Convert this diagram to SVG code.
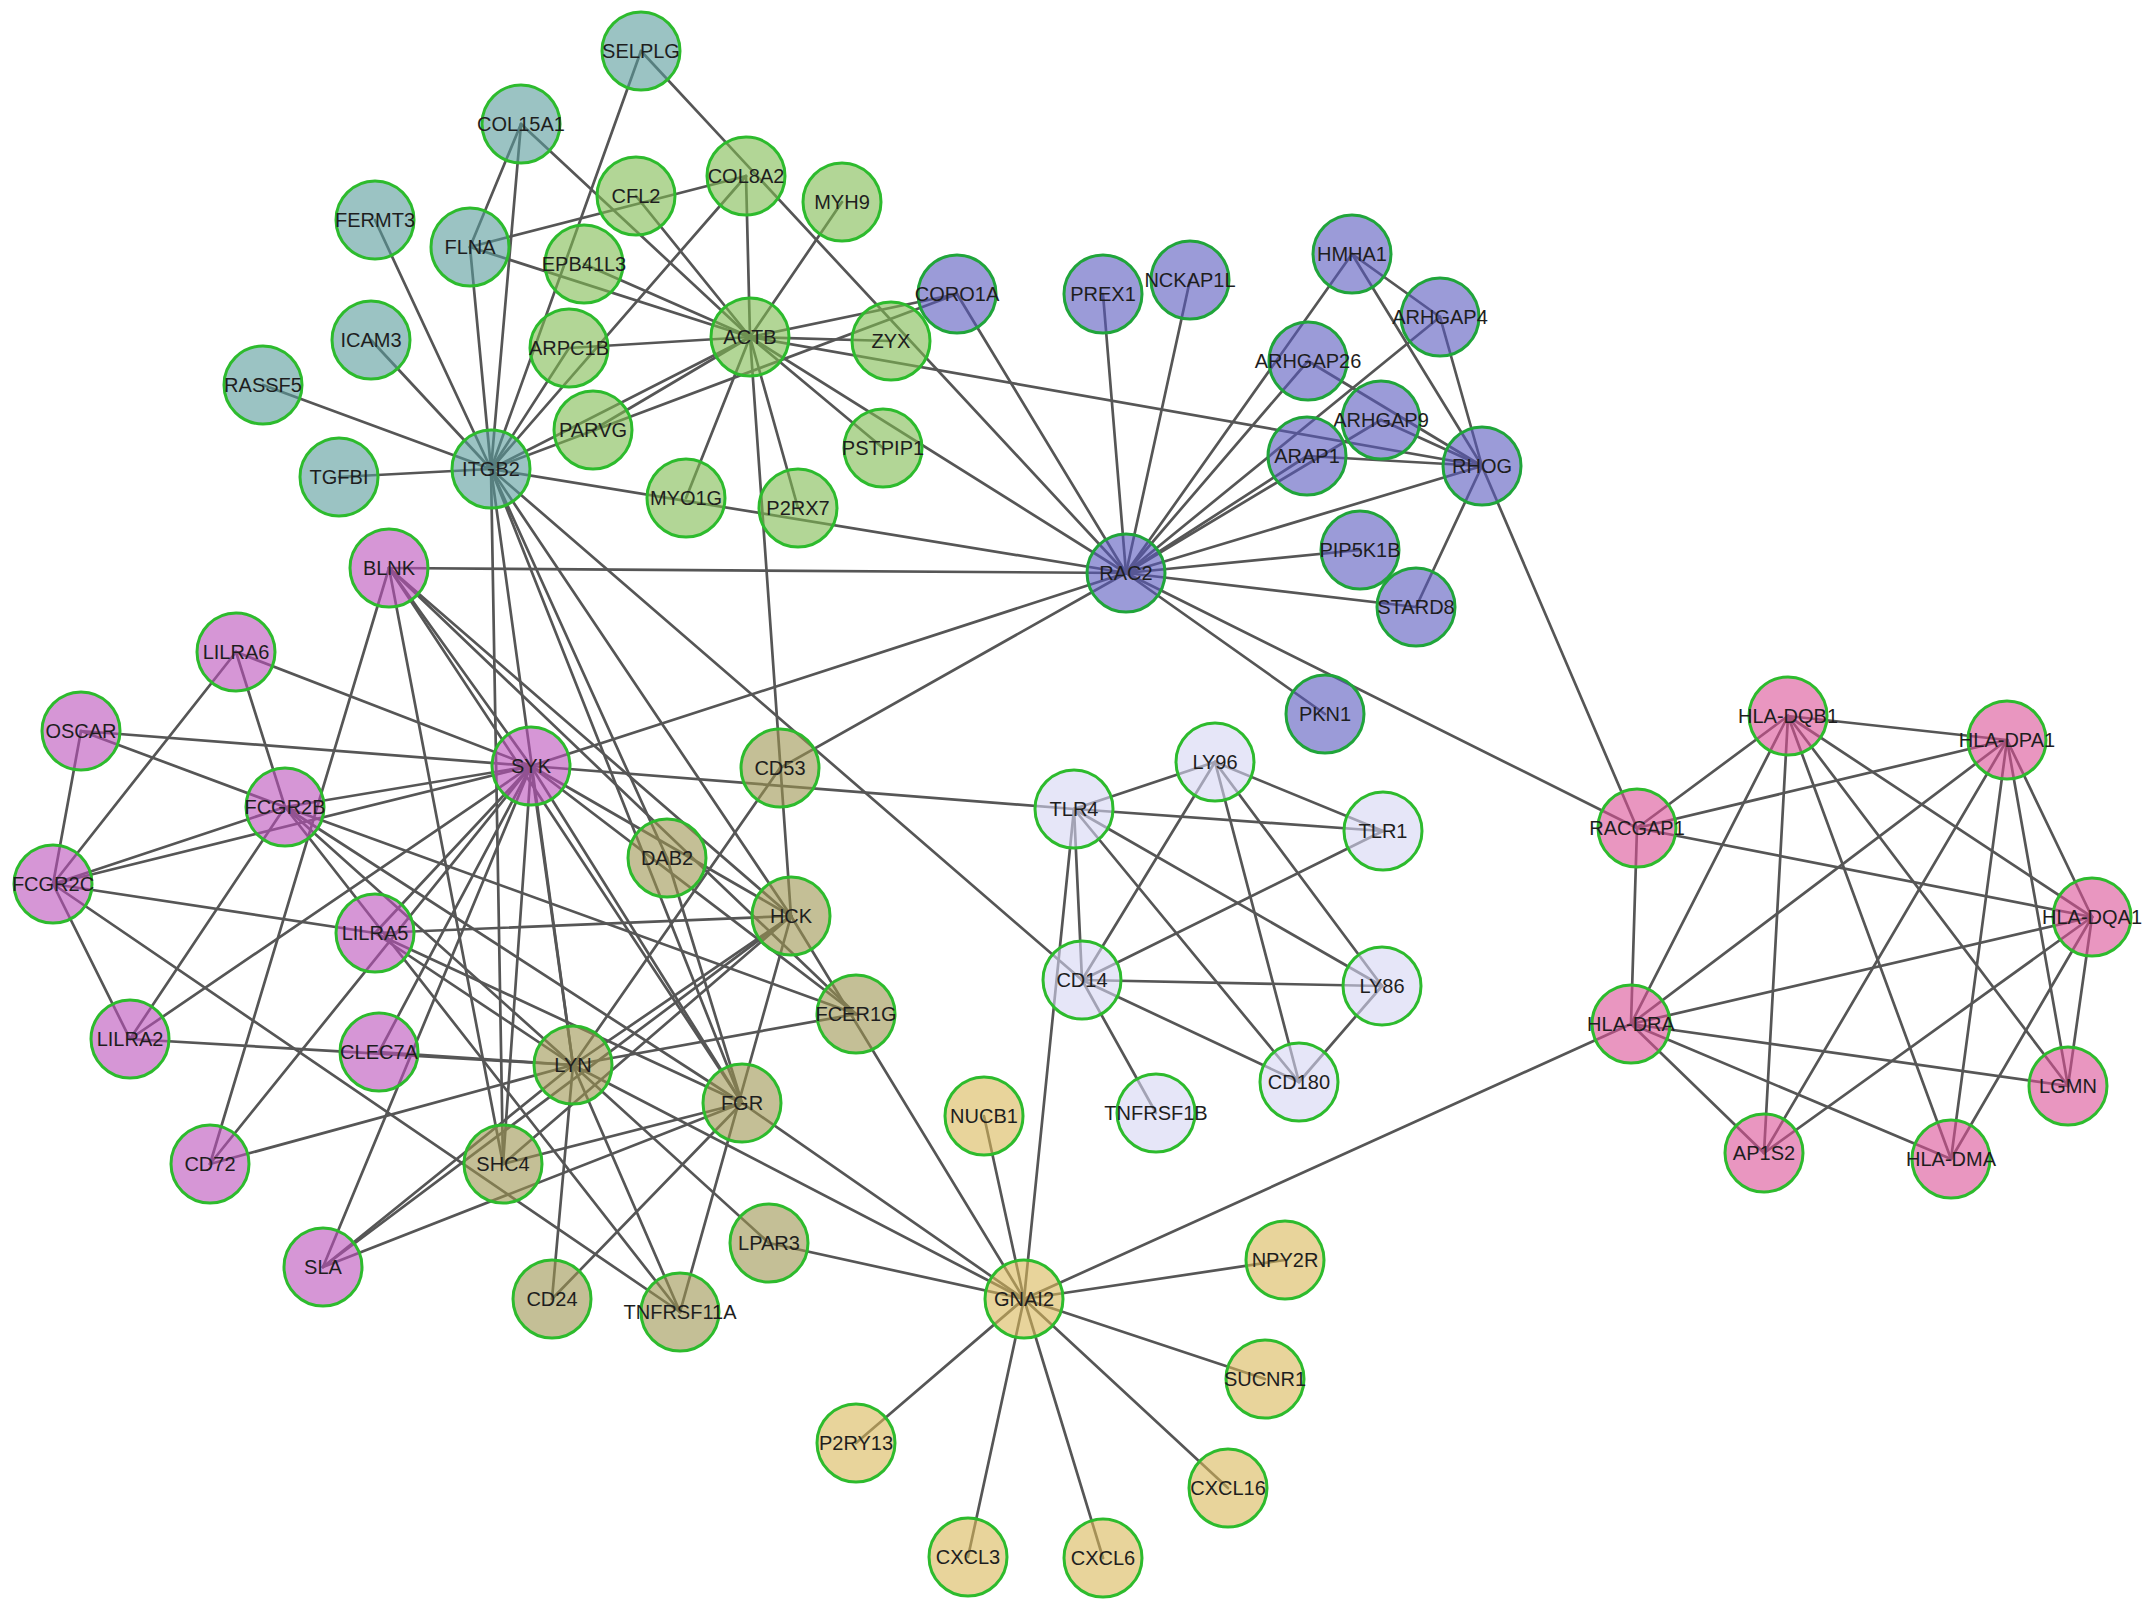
<svg xmlns="http://www.w3.org/2000/svg" width="2150" height="1612" viewBox="0 0 2150 1612">
<style>
.e{stroke:#565656;stroke-width:2.7;stroke-linecap:round}
circle{stroke:#2dbb2d;stroke-width:3}
.t{fill:#589b9b;fill-opacity:.6}
.g{fill:#7fbb50;fill-opacity:.6}
.p{fill:#5858be;fill-opacity:.6;stroke:#20a53a}
.o{fill:#bb50bb;fill-opacity:.6}
.k{fill:#9d9450;fill-opacity:.6}
.l{fill:#d5d5f3;fill-opacity:.6}
.y{fill:#d9b758;fill-opacity:.6}
.m{fill:#da5096;fill-opacity:.6}
text{font-family:"Liberation Sans",Arial,sans-serif;font-size:20px;fill:#1e1e1e;text-anchor:middle}
</style>
<rect width="2150" height="1612" fill="#fff"/>
<g id="edges">
<line class="e" x1="491" y1="469" x2="263" y2="385"/>
<line class="e" x1="491" y1="469" x2="339" y2="477"/>
<line class="e" x1="491" y1="469" x2="371" y2="340"/>
<line class="e" x1="491" y1="469" x2="375" y2="220"/>
<line class="e" x1="491" y1="469" x2="470" y2="247"/>
<line class="e" x1="491" y1="469" x2="521" y2="124"/>
<line class="e" x1="491" y1="469" x2="641" y2="51"/>
<line class="e" x1="491" y1="469" x2="569" y2="348"/>
<line class="e" x1="491" y1="469" x2="746" y2="176"/>
<line class="e" x1="491" y1="469" x2="750" y2="337"/>
<line class="e" x1="491" y1="469" x2="957" y2="294"/>
<line class="e" x1="491" y1="469" x2="1126" y2="573"/>
<line class="e" x1="491" y1="469" x2="573" y2="1065"/>
<line class="e" x1="491" y1="469" x2="503" y2="1164"/>
<line class="e" x1="491" y1="469" x2="667" y2="858"/>
<line class="e" x1="491" y1="469" x2="791" y2="916"/>
<line class="e" x1="491" y1="469" x2="742" y2="1103"/>
<line class="e" x1="491" y1="469" x2="1082" y2="980"/>
<line class="e" x1="521" y1="124" x2="470" y2="247"/>
<line class="e" x1="521" y1="124" x2="750" y2="337"/>
<line class="e" x1="470" y1="247" x2="750" y2="337"/>
<line class="e" x1="470" y1="247" x2="746" y2="176"/>
<line class="e" x1="641" y1="51" x2="1126" y2="573"/>
<line class="e" x1="750" y1="337" x2="746" y2="176"/>
<line class="e" x1="750" y1="337" x2="636" y2="196"/>
<line class="e" x1="750" y1="337" x2="842" y2="202"/>
<line class="e" x1="750" y1="337" x2="584" y2="264"/>
<line class="e" x1="750" y1="337" x2="569" y2="348"/>
<line class="e" x1="750" y1="337" x2="593" y2="430"/>
<line class="e" x1="750" y1="337" x2="686" y2="498"/>
<line class="e" x1="750" y1="337" x2="798" y2="508"/>
<line class="e" x1="750" y1="337" x2="883" y2="448"/>
<line class="e" x1="750" y1="337" x2="891" y2="341"/>
<line class="e" x1="750" y1="337" x2="957" y2="294"/>
<line class="e" x1="750" y1="337" x2="1126" y2="573"/>
<line class="e" x1="750" y1="337" x2="1482" y2="466"/>
<line class="e" x1="750" y1="337" x2="791" y2="916"/>
<line class="e" x1="1126" y1="573" x2="957" y2="294"/>
<line class="e" x1="1126" y1="573" x2="1103" y2="294"/>
<line class="e" x1="1126" y1="573" x2="1190" y2="280"/>
<line class="e" x1="1126" y1="573" x2="1352" y2="254"/>
<line class="e" x1="1126" y1="573" x2="1440" y2="317"/>
<line class="e" x1="1126" y1="573" x2="1308" y2="361"/>
<line class="e" x1="1126" y1="573" x2="1381" y2="420"/>
<line class="e" x1="1126" y1="573" x2="1307" y2="456"/>
<line class="e" x1="1126" y1="573" x2="1482" y2="466"/>
<line class="e" x1="1126" y1="573" x2="1360" y2="550"/>
<line class="e" x1="1126" y1="573" x2="1416" y2="607"/>
<line class="e" x1="1126" y1="573" x2="1325" y2="714"/>
<line class="e" x1="1126" y1="573" x2="1637" y2="828"/>
<line class="e" x1="1126" y1="573" x2="389" y2="568"/>
<line class="e" x1="1126" y1="573" x2="531" y2="766"/>
<line class="e" x1="1126" y1="573" x2="780" y2="768"/>
<line class="e" x1="1352" y1="254" x2="1482" y2="466"/>
<line class="e" x1="1352" y1="254" x2="1440" y2="317"/>
<line class="e" x1="1440" y1="317" x2="1482" y2="466"/>
<line class="e" x1="1308" y1="361" x2="1482" y2="466"/>
<line class="e" x1="1381" y1="420" x2="1482" y2="466"/>
<line class="e" x1="1307" y1="456" x2="1482" y2="466"/>
<line class="e" x1="1482" y1="466" x2="1416" y2="607"/>
<line class="e" x1="1482" y1="466" x2="1637" y2="828"/>
<line class="e" x1="389" y1="568" x2="531" y2="766"/>
<line class="e" x1="389" y1="568" x2="210" y2="1164"/>
<line class="e" x1="389" y1="568" x2="791" y2="916"/>
<line class="e" x1="389" y1="568" x2="742" y2="1103"/>
<line class="e" x1="389" y1="568" x2="856" y2="1014"/>
<line class="e" x1="389" y1="568" x2="503" y2="1164"/>
<line class="e" x1="236" y1="652" x2="531" y2="766"/>
<line class="e" x1="236" y1="652" x2="285" y2="807"/>
<line class="e" x1="236" y1="652" x2="53" y2="884"/>
<line class="e" x1="81" y1="731" x2="531" y2="766"/>
<line class="e" x1="81" y1="731" x2="285" y2="807"/>
<line class="e" x1="81" y1="731" x2="53" y2="884"/>
<line class="e" x1="285" y1="807" x2="531" y2="766"/>
<line class="e" x1="285" y1="807" x2="53" y2="884"/>
<line class="e" x1="285" y1="807" x2="130" y2="1039"/>
<line class="e" x1="285" y1="807" x2="856" y2="1014"/>
<line class="e" x1="285" y1="807" x2="573" y2="1065"/>
<line class="e" x1="285" y1="807" x2="742" y2="1103"/>
<line class="e" x1="285" y1="807" x2="680" y2="1312"/>
<line class="e" x1="53" y1="884" x2="531" y2="766"/>
<line class="e" x1="53" y1="884" x2="375" y2="933"/>
<line class="e" x1="53" y1="884" x2="130" y2="1039"/>
<line class="e" x1="53" y1="884" x2="680" y2="1312"/>
<line class="e" x1="375" y1="933" x2="531" y2="766"/>
<line class="e" x1="375" y1="933" x2="791" y2="916"/>
<line class="e" x1="375" y1="933" x2="573" y2="1065"/>
<line class="e" x1="375" y1="933" x2="742" y2="1103"/>
<line class="e" x1="130" y1="1039" x2="531" y2="766"/>
<line class="e" x1="130" y1="1039" x2="573" y2="1065"/>
<line class="e" x1="379" y1="1052" x2="531" y2="766"/>
<line class="e" x1="379" y1="1052" x2="573" y2="1065"/>
<line class="e" x1="210" y1="1164" x2="531" y2="766"/>
<line class="e" x1="210" y1="1164" x2="573" y2="1065"/>
<line class="e" x1="323" y1="1267" x2="531" y2="766"/>
<line class="e" x1="323" y1="1267" x2="573" y2="1065"/>
<line class="e" x1="323" y1="1267" x2="791" y2="916"/>
<line class="e" x1="323" y1="1267" x2="742" y2="1103"/>
<line class="e" x1="531" y1="766" x2="791" y2="916"/>
<line class="e" x1="531" y1="766" x2="856" y2="1014"/>
<line class="e" x1="531" y1="766" x2="742" y2="1103"/>
<line class="e" x1="531" y1="766" x2="573" y2="1065"/>
<line class="e" x1="531" y1="766" x2="503" y2="1164"/>
<line class="e" x1="531" y1="766" x2="1074" y2="809"/>
<line class="e" x1="780" y1="768" x2="573" y2="1065"/>
<line class="e" x1="667" y1="858" x2="742" y2="1103"/>
<line class="e" x1="791" y1="916" x2="573" y2="1065"/>
<line class="e" x1="791" y1="916" x2="503" y2="1164"/>
<line class="e" x1="791" y1="916" x2="1024" y2="1299"/>
<line class="e" x1="791" y1="916" x2="680" y2="1312"/>
<line class="e" x1="856" y1="1014" x2="573" y2="1065"/>
<line class="e" x1="573" y1="1065" x2="552" y2="1299"/>
<line class="e" x1="573" y1="1065" x2="680" y2="1312"/>
<line class="e" x1="573" y1="1065" x2="769" y2="1243"/>
<line class="e" x1="573" y1="1065" x2="1024" y2="1299"/>
<line class="e" x1="742" y1="1103" x2="552" y2="1299"/>
<line class="e" x1="742" y1="1103" x2="503" y2="1164"/>
<line class="e" x1="742" y1="1103" x2="1024" y2="1299"/>
<line class="e" x1="769" y1="1243" x2="1024" y2="1299"/>
<line class="e" x1="1215" y1="762" x2="1074" y2="809"/>
<line class="e" x1="1215" y1="762" x2="1383" y2="831"/>
<line class="e" x1="1215" y1="762" x2="1082" y2="980"/>
<line class="e" x1="1215" y1="762" x2="1299" y2="1082"/>
<line class="e" x1="1215" y1="762" x2="1382" y2="986"/>
<line class="e" x1="1074" y1="809" x2="1383" y2="831"/>
<line class="e" x1="1074" y1="809" x2="1082" y2="980"/>
<line class="e" x1="1074" y1="809" x2="1382" y2="986"/>
<line class="e" x1="1074" y1="809" x2="1299" y2="1082"/>
<line class="e" x1="1074" y1="809" x2="1024" y2="1299"/>
<line class="e" x1="1383" y1="831" x2="1082" y2="980"/>
<line class="e" x1="1082" y1="980" x2="1382" y2="986"/>
<line class="e" x1="1082" y1="980" x2="1299" y2="1082"/>
<line class="e" x1="1082" y1="980" x2="1156" y2="1113"/>
<line class="e" x1="1382" y1="986" x2="1299" y2="1082"/>
<line class="e" x1="1024" y1="1299" x2="984" y2="1116"/>
<line class="e" x1="1024" y1="1299" x2="1285" y2="1260"/>
<line class="e" x1="1024" y1="1299" x2="1265" y2="1379"/>
<line class="e" x1="1024" y1="1299" x2="1228" y2="1488"/>
<line class="e" x1="1024" y1="1299" x2="1103" y2="1558"/>
<line class="e" x1="1024" y1="1299" x2="968" y2="1557"/>
<line class="e" x1="1024" y1="1299" x2="856" y2="1443"/>
<line class="e" x1="1024" y1="1299" x2="1631" y2="1024"/>
<line class="e" x1="1788" y1="716" x2="2007" y2="740"/>
<line class="e" x1="1788" y1="716" x2="1637" y2="828"/>
<line class="e" x1="1788" y1="716" x2="1631" y2="1024"/>
<line class="e" x1="1788" y1="716" x2="1764" y2="1153"/>
<line class="e" x1="1788" y1="716" x2="1951" y2="1159"/>
<line class="e" x1="1788" y1="716" x2="2068" y2="1086"/>
<line class="e" x1="1788" y1="716" x2="2092" y2="917"/>
<line class="e" x1="2007" y1="740" x2="1637" y2="828"/>
<line class="e" x1="2007" y1="740" x2="1631" y2="1024"/>
<line class="e" x1="2007" y1="740" x2="1764" y2="1153"/>
<line class="e" x1="2007" y1="740" x2="1951" y2="1159"/>
<line class="e" x1="2007" y1="740" x2="2068" y2="1086"/>
<line class="e" x1="2007" y1="740" x2="2092" y2="917"/>
<line class="e" x1="1637" y1="828" x2="2092" y2="917"/>
<line class="e" x1="1637" y1="828" x2="1631" y2="1024"/>
<line class="e" x1="2092" y1="917" x2="1631" y2="1024"/>
<line class="e" x1="2092" y1="917" x2="1764" y2="1153"/>
<line class="e" x1="2092" y1="917" x2="1951" y2="1159"/>
<line class="e" x1="2092" y1="917" x2="2068" y2="1086"/>
<line class="e" x1="1631" y1="1024" x2="2068" y2="1086"/>
<line class="e" x1="1631" y1="1024" x2="1764" y2="1153"/>
<line class="e" x1="1631" y1="1024" x2="1951" y2="1159"/>
</g>
<g id="node-SELPLG"><circle class="t" cx="641" cy="51" r="39"/><text x="641" y="58">SELPLG</text></g>
<g id="node-COL15A1"><circle class="t" cx="521" cy="124" r="39"/><text x="521" y="131">COL15A1</text></g>
<g id="node-FERMT3"><circle class="t" cx="375" cy="220" r="39"/><text x="375" y="227">FERMT3</text></g>
<g id="node-FLNA"><circle class="t" cx="470" cy="247" r="39"/><text x="470" y="254">FLNA</text></g>
<g id="node-ICAM3"><circle class="t" cx="371" cy="340" r="39"/><text x="371" y="347">ICAM3</text></g>
<g id="node-RASSF5"><circle class="t" cx="263" cy="385" r="39"/><text x="263" y="392">RASSF5</text></g>
<g id="node-TGFBI"><circle class="t" cx="339" cy="477" r="39"/><text x="339" y="484">TGFBI</text></g>
<g id="node-ITGB2"><circle class="t" cx="491" cy="469" r="39"/><text x="491" y="476">ITGB2</text></g>
<g id="node-CFL2"><circle class="g" cx="636" cy="196" r="39"/><text x="636" y="203">CFL2</text></g>
<g id="node-COL8A2"><circle class="g" cx="746" cy="176" r="39"/><text x="746" y="183">COL8A2</text></g>
<g id="node-MYH9"><circle class="g" cx="842" cy="202" r="39"/><text x="842" y="209">MYH9</text></g>
<g id="node-EPB41L3"><circle class="g" cx="584" cy="264" r="39"/><text x="584" y="271">EPB41L3</text></g>
<g id="node-ARPC1B"><circle class="g" cx="569" cy="348" r="39"/><text x="569" y="355">ARPC1B</text></g>
<g id="node-ACTB"><circle class="g" cx="750" cy="337" r="39"/><text x="750" y="344">ACTB</text></g>
<g id="node-ZYX"><circle class="g" cx="891" cy="341" r="39"/><text x="891" y="348">ZYX</text></g>
<g id="node-PARVG"><circle class="g" cx="593" cy="430" r="39"/><text x="593" y="437">PARVG</text></g>
<g id="node-PSTPIP1"><circle class="g" cx="883" cy="448" r="39"/><text x="883" y="455">PSTPIP1</text></g>
<g id="node-MYO1G"><circle class="g" cx="686" cy="498" r="39"/><text x="686" y="505">MYO1G</text></g>
<g id="node-P2RX7"><circle class="g" cx="798" cy="508" r="39"/><text x="798" y="515">P2RX7</text></g>
<g id="node-CORO1A"><circle class="p" cx="957" cy="294" r="39"/><text x="957" y="301">CORO1A</text></g>
<g id="node-PREX1"><circle class="p" cx="1103" cy="294" r="39"/><text x="1103" y="301">PREX1</text></g>
<g id="node-NCKAP1L"><circle class="p" cx="1190" cy="280" r="39"/><text x="1190" y="287">NCKAP1L</text></g>
<g id="node-HMHA1"><circle class="p" cx="1352" cy="254" r="39"/><text x="1352" y="261">HMHA1</text></g>
<g id="node-ARHGAP4"><circle class="p" cx="1440" cy="317" r="39"/><text x="1440" y="324">ARHGAP4</text></g>
<g id="node-ARHGAP26"><circle class="p" cx="1308" cy="361" r="39"/><text x="1308" y="368">ARHGAP26</text></g>
<g id="node-ARHGAP9"><circle class="p" cx="1381" cy="420" r="39"/><text x="1381" y="427">ARHGAP9</text></g>
<g id="node-ARAP1"><circle class="p" cx="1307" cy="456" r="39"/><text x="1307" y="463">ARAP1</text></g>
<g id="node-RHOG"><circle class="p" cx="1482" cy="466" r="39"/><text x="1482" y="473">RHOG</text></g>
<g id="node-PIP5K1B"><circle class="p" cx="1360" cy="550" r="39"/><text x="1360" y="557">PIP5K1B</text></g>
<g id="node-STARD8"><circle class="p" cx="1416" cy="607" r="39"/><text x="1416" y="614">STARD8</text></g>
<g id="node-RAC2"><circle class="p" cx="1126" cy="573" r="39"/><text x="1126" y="580">RAC2</text></g>
<g id="node-PKN1"><circle class="p" cx="1325" cy="714" r="39"/><text x="1325" y="721">PKN1</text></g>
<g id="node-BLNK"><circle class="o" cx="389" cy="568" r="39"/><text x="389" y="575">BLNK</text></g>
<g id="node-LILRA6"><circle class="o" cx="236" cy="652" r="39"/><text x="236" y="659">LILRA6</text></g>
<g id="node-OSCAR"><circle class="o" cx="81" cy="731" r="39"/><text x="81" y="738">OSCAR</text></g>
<g id="node-SYK"><circle class="o" cx="531" cy="766" r="39"/><text x="531" y="773">SYK</text></g>
<g id="node-FCGR2B"><circle class="o" cx="285" cy="807" r="39"/><text x="285" y="814">FCGR2B</text></g>
<g id="node-FCGR2C"><circle class="o" cx="53" cy="884" r="39"/><text x="53" y="891">FCGR2C</text></g>
<g id="node-LILRA5"><circle class="o" cx="375" cy="933" r="39"/><text x="375" y="940">LILRA5</text></g>
<g id="node-LILRA2"><circle class="o" cx="130" cy="1039" r="39"/><text x="130" y="1046">LILRA2</text></g>
<g id="node-CLEC7A"><circle class="o" cx="379" cy="1052" r="39"/><text x="379" y="1059">CLEC7A</text></g>
<g id="node-CD72"><circle class="o" cx="210" cy="1164" r="39"/><text x="210" y="1171">CD72</text></g>
<g id="node-SLA"><circle class="o" cx="323" cy="1267" r="39"/><text x="323" y="1274">SLA</text></g>
<g id="node-CD53"><circle class="k" cx="780" cy="768" r="39"/><text x="780" y="775">CD53</text></g>
<g id="node-DAB2"><circle class="k" cx="667" cy="858" r="39"/><text x="667" y="865">DAB2</text></g>
<g id="node-HCK"><circle class="k" cx="791" cy="916" r="39"/><text x="791" y="923">HCK</text></g>
<g id="node-FCER1G"><circle class="k" cx="856" cy="1014" r="39"/><text x="856" y="1021">FCER1G</text></g>
<g id="node-LYN"><circle class="k" cx="573" cy="1065" r="39"/><text x="573" y="1072">LYN</text></g>
<g id="node-FGR"><circle class="k" cx="742" cy="1103" r="39"/><text x="742" y="1110">FGR</text></g>
<g id="node-SHC4"><circle class="k" cx="503" cy="1164" r="39"/><text x="503" y="1171">SHC4</text></g>
<g id="node-LPAR3"><circle class="k" cx="769" cy="1243" r="39"/><text x="769" y="1250">LPAR3</text></g>
<g id="node-CD24"><circle class="k" cx="552" cy="1299" r="39"/><text x="552" y="1306">CD24</text></g>
<g id="node-TNFRSF11A"><circle class="k" cx="680" cy="1312" r="39"/><text x="680" y="1319">TNFRSF11A</text></g>
<g id="node-LY96"><circle class="l" cx="1215" cy="762" r="39"/><text x="1215" y="769">LY96</text></g>
<g id="node-TLR4"><circle class="l" cx="1074" cy="809" r="39"/><text x="1074" y="816">TLR4</text></g>
<g id="node-TLR1"><circle class="l" cx="1383" cy="831" r="39"/><text x="1383" y="838">TLR1</text></g>
<g id="node-CD14"><circle class="l" cx="1082" cy="980" r="39"/><text x="1082" y="987">CD14</text></g>
<g id="node-LY86"><circle class="l" cx="1382" cy="986" r="39"/><text x="1382" y="993">LY86</text></g>
<g id="node-CD180"><circle class="l" cx="1299" cy="1082" r="39"/><text x="1299" y="1089">CD180</text></g>
<g id="node-TNFRSF1B"><circle class="l" cx="1156" cy="1113" r="39"/><text x="1156" y="1120">TNFRSF1B</text></g>
<g id="node-NUCB1"><circle class="y" cx="984" cy="1116" r="39"/><text x="984" y="1123">NUCB1</text></g>
<g id="node-GNAI2"><circle class="y" cx="1024" cy="1299" r="39"/><text x="1024" y="1306">GNAI2</text></g>
<g id="node-NPY2R"><circle class="y" cx="1285" cy="1260" r="39"/><text x="1285" y="1267">NPY2R</text></g>
<g id="node-SUCNR1"><circle class="y" cx="1265" cy="1379" r="39"/><text x="1265" y="1386">SUCNR1</text></g>
<g id="node-P2RY13"><circle class="y" cx="856" cy="1443" r="39"/><text x="856" y="1450">P2RY13</text></g>
<g id="node-CXCL16"><circle class="y" cx="1228" cy="1488" r="39"/><text x="1228" y="1495">CXCL16</text></g>
<g id="node-CXCL3"><circle class="y" cx="968" cy="1557" r="39"/><text x="968" y="1564">CXCL3</text></g>
<g id="node-CXCL6"><circle class="y" cx="1103" cy="1558" r="39"/><text x="1103" y="1565">CXCL6</text></g>
<g id="node-HLA-DQB1"><circle class="m" cx="1788" cy="716" r="39"/><text x="1788" y="723">HLA-DQB1</text></g>
<g id="node-HLA-DPA1"><circle class="m" cx="2007" cy="740" r="39"/><text x="2007" y="747">HLA-DPA1</text></g>
<g id="node-RACGAP1"><circle class="m" cx="1637" cy="828" r="39"/><text x="1637" y="835">RACGAP1</text></g>
<g id="node-HLA-DQA1"><circle class="m" cx="2092" cy="917" r="39"/><text x="2092" y="924">HLA-DQA1</text></g>
<g id="node-HLA-DRA"><circle class="m" cx="1631" cy="1024" r="39"/><text x="1631" y="1031">HLA-DRA</text></g>
<g id="node-LGMN"><circle class="m" cx="2068" cy="1086" r="39"/><text x="2068" y="1093">LGMN</text></g>
<g id="node-AP1S2"><circle class="m" cx="1764" cy="1153" r="39"/><text x="1764" y="1160">AP1S2</text></g>
<g id="node-HLA-DMA"><circle class="m" cx="1951" cy="1159" r="39"/><text x="1951" y="1166">HLA-DMA</text></g>
</svg>
